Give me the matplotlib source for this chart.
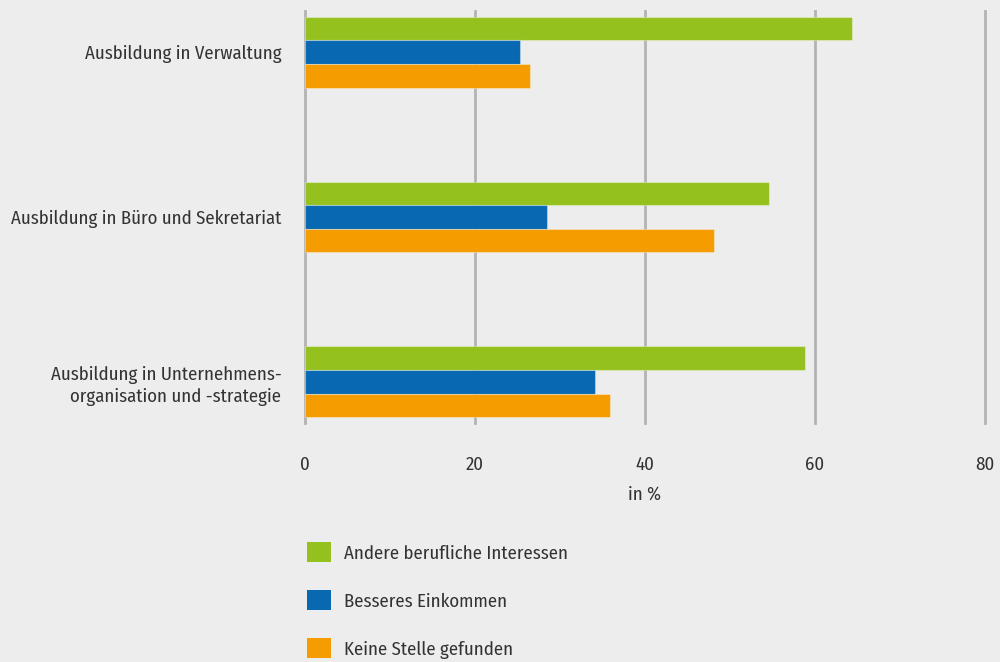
import matplotlib
matplotlib.use("Agg")
import matplotlib.pyplot as plt
from matplotlib.patches import Patch
import numpy as np

plt.rcParams['font.family'] = ['Fira Sans Condensed', 'DejaVu Sans']

categories = ["Ausbildung in Verwaltung",
              "Ausbildung in Büro und Sekretariat",
              "Ausbildung in Unternehmens-\norganisation und -strategie"]
series_names = ["Andere berufliche Interessen", "Besseres Einkommen", "Keine Stelle gefunden"]
andere = [64.3, 54.6, 58.8]
besser = [25.3, 28.5, 34.1]
keine = [26.5, 48.1, 35.9]
xticks = [0, 20, 40, 60, 80]
xlabel = "in %"

colors = ["#95C11F", "#0868B1", "#F59C00"]
bg = "#EDEDED"
txt = "#333333"
fs = 13.5

fig = plt.figure(figsize=(10, 6.62), dpi=100, facecolor=bg)
ax = fig.add_axes([0.305, 1 - 423/662, 0.68, 412/662])
ax.set_facecolor(bg)

y = np.arange(len(categories))
h = 1/7
for i, (vals, c) in enumerate(zip([andere, besser, keine], colors)):
    ax.barh(y + (i - 1) * h, vals, height=h, color=c, edgecolor=(1, 1, 1, 0.35),
            linewidth=0.8, zorder=3)

ax.set_xlim(0, 80)
ax.set_ylim(2.25, -0.25)
ax.set_xticks(xticks)
ax.set_xticklabels([str(t) for t in xticks], fontsize=fs, color=txt)
ax.set_yticks(y)
ax.set_yticklabels(categories, fontsize=fs, color=txt, linespacing=1.3)
ax.tick_params(axis='both', length=0)
ax.tick_params(axis='x', pad=24)
ax.tick_params(axis='y', pad=17)
ax.grid(axis='x', color="#B3B3B3", linewidth=2, zorder=0)
for gl in ax.get_xgridlines():
    gl.set_clip_on(False)
for s in ax.spines.values():
    s.set_visible(False)
ax.set_xlabel(xlabel, fontsize=fs, color=txt, labelpad=8)

handles = [Patch(facecolor=c, edgecolor='none', label=n) for c, n in zip(colors, series_names)]
leg = fig.legend(handles=handles, loc='upper left', bbox_to_anchor=(0.298, 1 - 533/662),
                 frameon=False, fontsize=fs, handlelength=1.25, handleheight=1.25,
                 labelspacing=1.5, handletextpad=0.7, borderpad=0)
for t in leg.get_texts():
    t.set_color(txt)

fig.savefig("out.png", dpi=100, facecolor=bg)
